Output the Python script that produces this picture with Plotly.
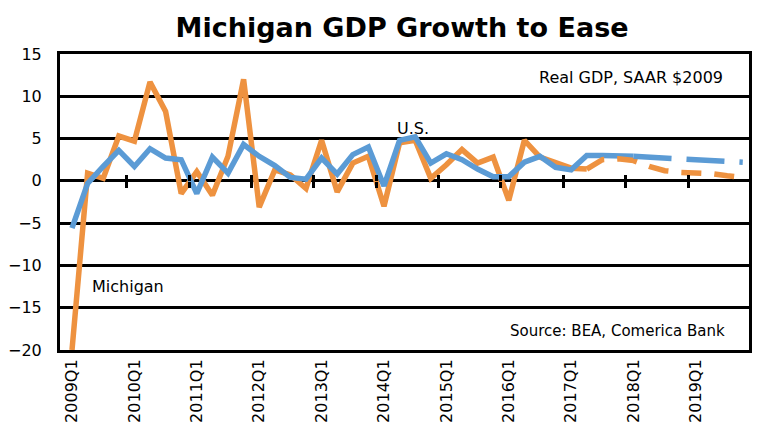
import plotly.graph_objects as go

# quarters 2009Q1 .. 2019Q4
quarters = [f"{y}Q{q}" for y in range(2009, 2020) for q in range(1, 5)]
tick_labels = ["2009Q1", "2010Q1", "2011Q1", "2012Q1", "2013Q1", "2014Q1",
               "2015Q1", "2016Q1", "2017Q1", "2018Q1", "2019Q1"]

# Michigan real GDP growth, SAAR %
mi_actual = [-20.0, 0.9, 0.3, 5.3, 4.7, 11.7, 8.2, -1.5, 1.1, -1.7, 2.9, 12.0,
             -3.1, 1.3, 0.7, -0.9, 4.8, -1.3, 2.1, 2.9, -3.0, 4.5, 4.8, 0.3,
             1.9, 3.7, 2.1, 2.8, -2.3, 4.8, 2.8, 2.1, 1.5, 1.4]
mi_forecast = [1.4, 2.5, 2.6, 2.4, 1.7, 1.2, 1.0, 0.95, 0.85, 0.6, 0.4]

# U.S. real GDP growth, SAAR %
us_actual = [-5.6, -0.3, 1.7, 3.6, 1.7, 3.8, 2.7, 2.5, -1.5, 2.8, 0.9, 4.3,
             2.9, 1.8, 0.4, 0.2, 2.7, 0.8, 3.1, 4.0, -0.6, 4.8, 5.2, 2.1,
             3.2, 2.5, 1.4, 0.5, 0.5, 2.2, 2.9, 1.6, 1.3, 3.0, 3.0, 2.95, 2.9]
us_forecast = [2.9, 2.8, 2.7, 2.6, 2.5, 2.4, 2.3, 2.2]

ORANGE = "#EE9240"
BLUE = "#5B9BD5"
FONT = "DejaVu Sans"

idx = list(range(len(quarters)))
tick_pos = [quarters.index(t) for t in tick_labels]
cross_ticks = [p - 0.5 for p in tick_pos[1:]]  # small ticks on the zero line

mi_start = len(mi_actual) - 1
us_start = len(us_actual) - 1

fig = go.Figure()
fig.add_scatter(x=idx[:len(mi_actual)], y=mi_actual, mode="lines",
                line=dict(color=ORANGE, width=5.5), name="Michigan")
# forecasts sit on the overlay axes (same range) so those axes get drawn
fig.add_scatter(x=idx[mi_start:mi_start + len(mi_forecast)], y=mi_forecast,
                mode="lines", line=dict(color=ORANGE, width=5.5, dash="20px,13px"),
                name="Michigan forecast", xaxis="x2")
fig.add_scatter(x=idx[:len(us_actual)], y=us_actual, mode="lines",
                line=dict(color=BLUE, width=5.5), name="U.S.")
fig.add_scatter(x=idx[us_start:us_start + len(us_forecast)], y=us_forecast,
                mode="lines", line=dict(color=BLUE, width=5.5, dash="38px,15px"),
                name="U.S. forecast", xaxis="x3")

x_range = [-0.77, 43.4]
y_range = [-20, 15]
zero_pos = (0 - y_range[0]) / (y_range[1] - y_range[0])

cross = dict(overlaying="x", anchor="free", position=zero_pos,
             range=x_range, tickmode="array", tickvals=cross_ticks,
             ticks="outside", ticklen=6, tickwidth=2.5, tickcolor="black",
             showticklabels=False, showgrid=False, zeroline=False,
             showline=False, automargin=False)

fig.update_layout(
    width=768, height=439,
    margin=dict(l=60, r=19, t=54, b=89),
    paper_bgcolor="white", plot_bgcolor="white",
    showlegend=False,
    font=dict(family=FONT, size=16, color="black"),
    title=dict(text="<b>Michigan GDP Growth to Ease</b>", x=0.5235, xanchor="center",
               y=0.938, yanchor="middle", font=dict(family=FONT, size=27, color="black")),
    xaxis=dict(range=x_range, tickmode="array", tickvals=tick_pos, ticktext=tick_labels,
               tickangle=-90, ticks="", showgrid=False, zeroline=False,
               showline=True, linecolor="black", linewidth=3, mirror=True,
               tickfont=dict(size=16), automargin=False),
    xaxis2=dict(cross, side="bottom"),
    xaxis3=dict(cross, side="top"),
    yaxis=dict(range=y_range, dtick=5, showgrid=True, gridcolor="black", gridwidth=2.5,
               zeroline=True, zerolinecolor="black", zerolinewidth=2.5,
               showline=True, linecolor="black", linewidth=3, mirror=True,
               ticks="", ticklabelstandoff=12, tickfont=dict(size=16),
               automargin=False),
)

fig.add_annotation(text="Real GDP, SAAR $2009", xref="paper", yref="paper",
                   x=0.965, y=0.919, xanchor="right", yanchor="middle",
                   showarrow=False, font=dict(size=16))
fig.add_annotation(text="U.S.", xref="paper", yref="paper",
                   x=0.512, y=0.75, xanchor="center", yanchor="middle",
                   showarrow=False, font=dict(size=16))
fig.add_annotation(text="Michigan", xref="paper", yref="paper",
                   x=0.0435, y=0.213, xanchor="left", yanchor="middle",
                   showarrow=False, font=dict(size=16))
fig.add_annotation(text="Source: BEA, Comerica Bank", xref="paper", yref="paper",
                   x=0.968, y=0.064, xanchor="right", yanchor="middle",
                   showarrow=False, font=dict(size=15))

# drop the page's default 8px body margin so the figure sits at the window origin
fig.write_html("out.html", config={"displayModeBar": False},
               post_script="document.body.style.margin='0';")
